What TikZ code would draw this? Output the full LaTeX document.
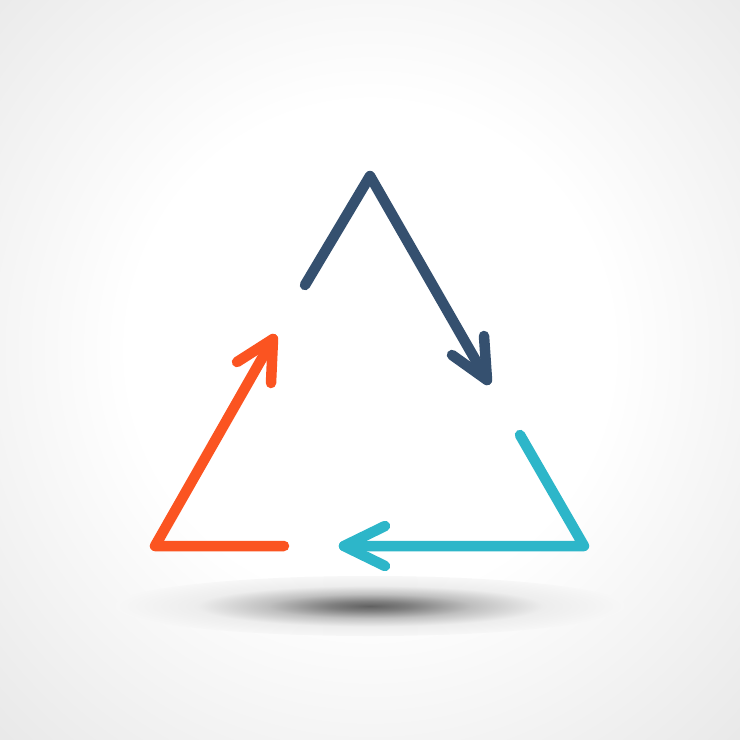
\documentclass[tikz,border=0pt]{standalone}
\definecolor{navy}{HTML}{35506F}
\definecolor{orng}{HTML}{FB5421}
\definecolor{cyn}{HTML}{2DB6C9}
\definecolor{bggray}{HTML}{E2E2E2}
\definecolor{shbg}{HTML}{F7F7F7}
\pgfdeclareradialshading{bgshade}{\pgfpoint{0bp}{0bp}}{color(0bp)=(white); color(14bp)=(white); color(36bp)=(bggray); color(50bp)=(bggray)}
\pgfdeclareradialshading{shadowshade}{\pgfpoint{0bp}{0bp}}{color(0bp)=(black!62); color(4bp)=(black!50); color(10bp)=(black!25); color(17bp)=(black!7); color(25bp)=(shbg); color(50bp)=(shbg)}
\tikzset{arr/.style={line width=10.5pt, line cap=round, line join=round}}
\begin{document}
\begin{tikzpicture}[x=1pt,y=-1pt]
\useasboundingbox (0,0) rectangle (740,740);
\shade[shading=bgshade] (-60,-90) rectangle (800,790);
\shade[shading=shadowshade] (370,606) ellipse (255 and 30);
% dark blue arrow
\coordinate (b0) at (305,285);
\coordinate (b1) at (370,176);
\coordinate (b2) at (487,380);
\coordinate (bb1) at (484,336);
\coordinate (bb2) at (452,355);
\draw[arr, navy] (b0) -- (b1) -- (b2);
\draw[arr, navy] (bb1) -- (b2) -- (bb2);
% orange arrow
\coordinate (o0) at (284,546);
\coordinate (o1) at (155,546);
\coordinate (o2) at (273,339);
\coordinate (ob1) at (237,362);
\coordinate (ob2) at (271,383);
\draw[arr, orng] (o0) -- (o1) -- (o2);
\draw[arr, orng] (ob1) -- (o2) -- (ob2);
% cyan arrow
\coordinate (c0) at (520,435);
\coordinate (c1) at (584,546);
\coordinate (c2) at (344,546);
\coordinate (cb1) at (385,526);
\coordinate (cb2) at (385,566);
\draw[arr, cyn] (c0) -- (c1) -- (c2);
\draw[arr, cyn] (cb1) -- (c2) -- (cb2);
\end{tikzpicture}
\end{document}
